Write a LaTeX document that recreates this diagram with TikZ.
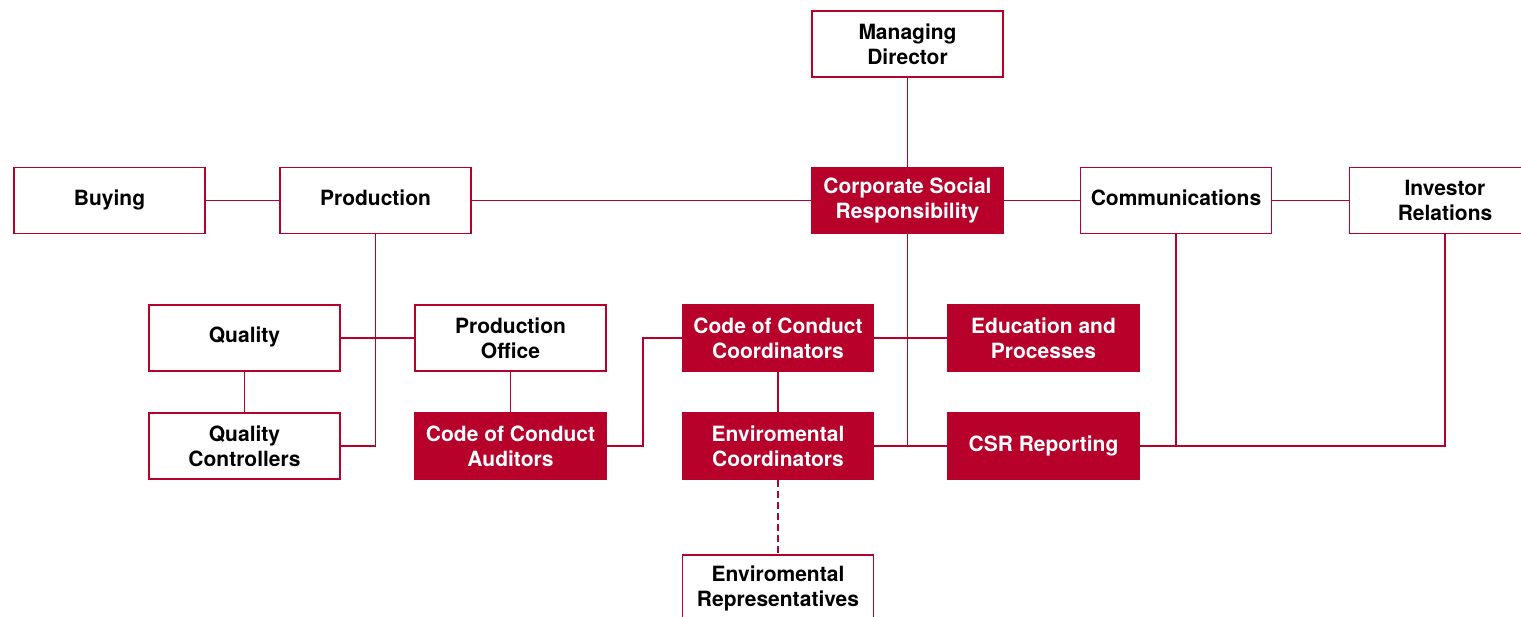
\documentclass[tikz,border=0pt]{standalone}
\usepackage{fontspec}
\setmainfont{TeX Gyre Heros}
\definecolor{csrred}{RGB}{183,0,42}
\tikzset{
  box/.style={draw=csrred, line width=1.5pt, minimum width=191pt, minimum height=66pt, inner sep=0pt,
    align=center, font=\fontsize{21}{25}\selectfont\bfseries, fill=white, text=black},
  redbox/.style={box, fill=csrred, text=white},
  oneline/.style={text height=14.5pt, text depth=4.5pt},
  link/.style={draw=csrred, line width=1.6pt},
  dlink/.style={draw=csrred, line width=1.8pt, dash pattern=on 7pt off 4pt}
}
\begin{document}
\begin{tikzpicture}[x=1pt,y=-1pt]
\useasboundingbox (0,0) rectangle (1521,617);
\clip (0,0) rectangle (1521,617);
% nodes
\node[box]    (md)   at (907.5,44)   {Managing\\Director};
\node[box,oneline]    (buy)  at (109.5,200.5) {Buying};
\node[box,oneline]    (prod) at (375.5,200.5) {Production};
\node[redbox] (csr)  at (907.5,200.5) {Corporate Social\\Responsibility};
\node[box,oneline]    (comm) at (1176,200.5)  {Communications};
\node[box]    (ir)   at (1445,200.5)  {Investor\\Relations};
\node[box,oneline]    (qual) at (244.5,338)   {Quality};
\node[box]    (po)   at (510.5,338)   {Production\\Office};
\node[redbox] (cocc) at (778,338)   {Code of Conduct\\Coordinators};
\node[redbox] (edu)  at (1043.5,338)  {Education and\\Processes};
\node[box]    (qc)   at (244.5,446)   {Quality\\Controllers};
\node[redbox] (coca) at (510.5,446)   {Code of Conduct\\Auditors};
\node[redbox] (envc) at (778,446)   {Enviromental\\Coordinators};
\node[redbox,oneline] (csrr) at (1043.5,446)  {CSR Reporting};
\node[box]    (envr) at (778,588)   {Enviromental\\Representatives};
\coordinate (k) at (643,446);
% connectors
\path[link] (md.south) -- (csr.north);
\path[link] (buy.east) -- (prod.west);
\path[link] (prod.east) -- (csr.west);
\path[link] (csr.east) -- (comm.west);
\path[link] (comm.east) -- (ir.west);
\path[link] (prod.south) |- (qc.east);
\path[link] (qual.east) -- (po.west);
\path[link] (qual.south) -- (qc.north);
\path[link] (po.south) -- (coca.north);
\path[link] (coca.east) -- (k) |- (cocc.west);
\path[link] (cocc.east) -- (edu.west);
\path[link] (csr.south) |- (csrr.west);
\path[link] (envc.east) -- (csrr.west);
\path[link] (cocc.south) -- (envc.north);
\path[dlink] (envc.south) -- (envr.north);
\path[link] (comm.south) |- (csrr.east);
\path[link] (csrr.east) -| (ir.south);
\end{tikzpicture}
\end{document}
